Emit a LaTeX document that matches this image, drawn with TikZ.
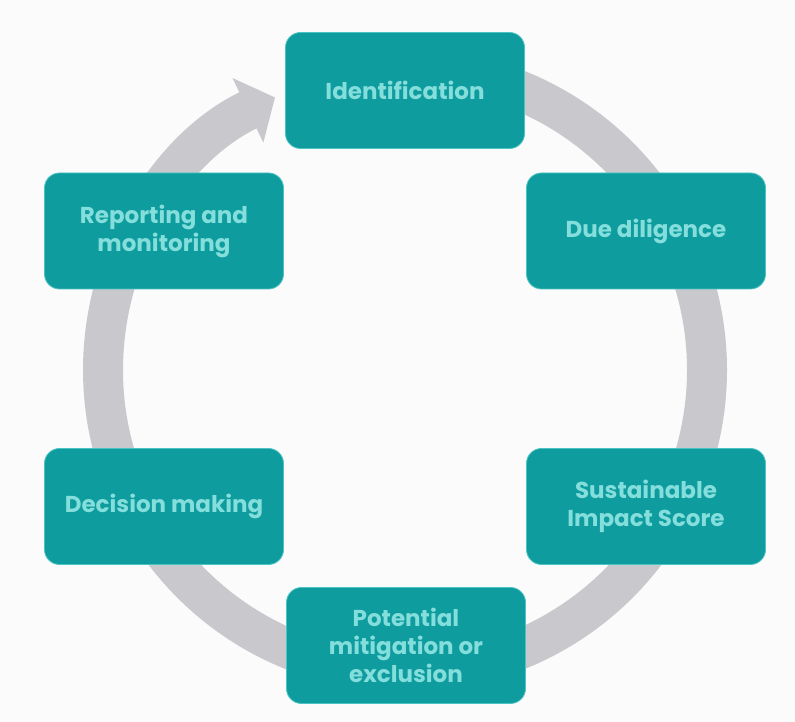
\documentclass[tikz,border=0pt]{standalone}
\usepackage{fontspec}
\setmainfont{Poppins}
\usetikzlibrary{arrows.meta}
\definecolor{boxfill}{HTML}{0F9C9E}
\definecolor{boxline}{HTML}{4CC3C3}
\definecolor{boxtext}{HTML}{84DEDC}
\definecolor{ring}{HTML}{C9C9CD}
\definecolor{bg}{HTML}{FBFBFB}
\tikzset{
  stepbox/.style={draw=boxline, line width=0.8pt, fill=boxfill, rounded corners=15pt,
    minimum width=239pt, minimum height=116pt, text=boxtext, align=center,
    font=\fontsize{23}{28}\selectfont\bfseries, inner sep=0pt},
  ringline/.style={draw=ring, line width=40pt}
}
\begin{document}
\begin{tikzpicture}[x=1pt,y=1pt]
\fill[bg] (0,0) rectangle (795,722);
\useasboundingbox (0,0) rectangle (795,722);
\coordinate (c) at (405,352);
\draw[ringline, -{Triangle[length=30pt,width=70pt]}] ([shift={(90:302)}]c) arc[start angle=90, end angle=-244.5, radius=302];
\node[stepbox] (ident) at (405,631.5) {Identification};
\node[stepbox] (due) at (646,491) {Due diligence};
\node[stepbox] (report) at (164,491) {Reporting and\\monitoring};
\node[stepbox] (decision) at (164,215.5) {Decision making};
\node[stepbox] (sis) at (646,215.5) {Sustainable\\Impact Score};
\node[stepbox] (pot) at (406,76.5) {Potential\\mitigation or\\exclusion};
\end{tikzpicture}
\end{document}
